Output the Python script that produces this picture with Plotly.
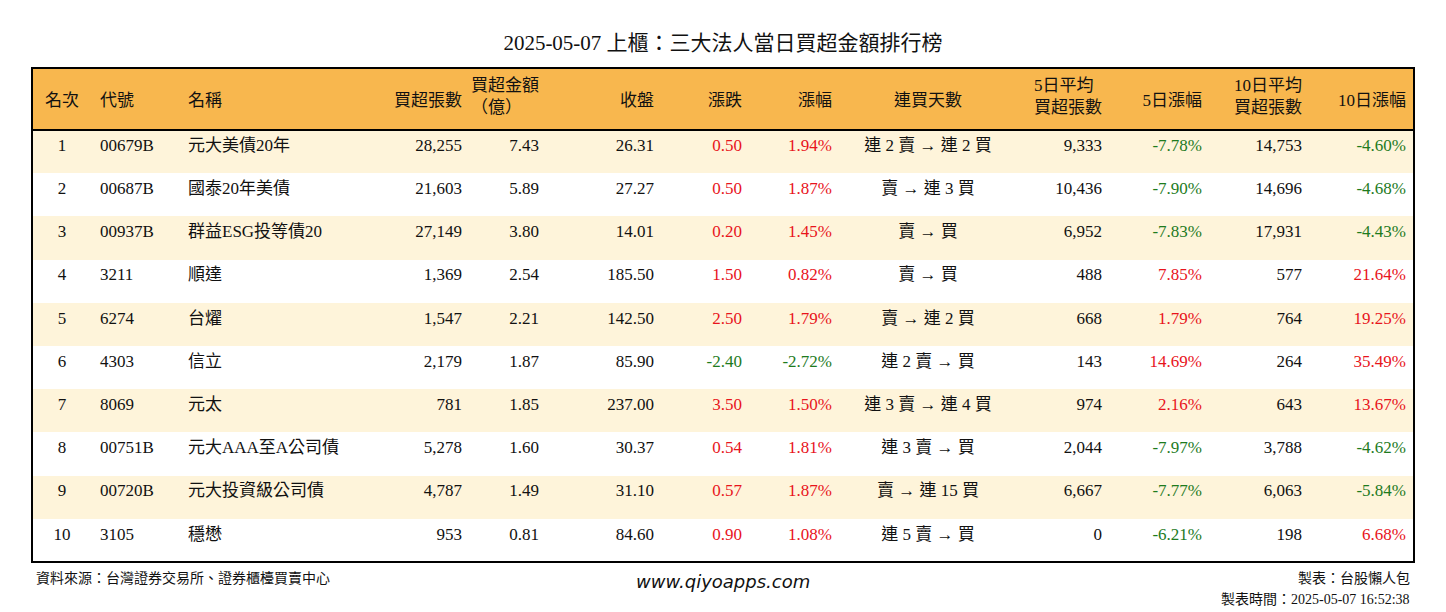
import plotly.graph_objects as go

rank = [1,2,3,4,5,6,7,8,9,10]
code = ["00679B","00687B","00937B","3211","6274","4303","8069","00751B","00720B","3105"]
name = ["元大美債20年","國泰20年美債","群益ESG投等債20","順達","台燿","信立","元太","元大AAA至A公司債","元大投資級公司債","穩懋"]
buy_lots = [28255,21603,27149,1369,1547,2179,781,5278,4787,953]
buy_amt = [7.43,5.89,3.80,2.54,2.21,1.87,1.85,1.60,1.49,0.81]
close = [26.31,27.27,14.01,185.50,142.50,85.90,237.00,30.37,31.10,84.60]
chg = [0.50,0.50,0.20,1.50,2.50,-2.40,3.50,0.54,0.57,0.90]
pct = [1.94,1.87,1.45,0.82,1.79,-2.72,1.50,1.81,1.87,1.08]
streak = ["連 2 賣 → 連 2 買","賣 → 連 3 買","賣 → 買","賣 → 買","賣 → 連 2 買","連 2 賣 → 買","連 3 賣 → 連 4 買","連 3 賣 → 買","賣 → 連 15 買","連 5 賣 → 買"]
avg5 = [9333,10436,6952,488,668,143,974,2044,6667,0]
pct5 = [-7.78,-7.90,-7.83,7.85,1.79,14.69,2.16,-7.97,-7.77,-6.21]
avg10 = [14753,14696,17931,577,764,264,643,3788,6063,198]
pct10 = [-4.60,-4.68,-4.43,21.64,19.25,35.49,13.67,-4.62,-5.84,6.68]

headers = ["名次","代號","名稱","買超張數","買超金額<br>（億）","收盤","漲跌","漲幅","連買天數","5日平均<br>買超張數","5日漲幅","10日平均<br>買超張數","10日漲幅"]
sp = "<span style='font-size:9px'> </span><br>"
headers = [h if "<br>" in h else sp + h for h in headers]

RED, GREEN, BLK = "#E8141C", "#1E7B1E", "#111111"
def sc(v): return RED if v > 0 else (GREEN if v < 0 else BLK)

cols = [
    [str(r) for r in rank], code, name,
    [f"{v:,}" for v in buy_lots], [f"{v:.2f}" for v in buy_amt], [f"{v:.2f}" for v in close],
    [f"{v:.2f}" for v in chg], [f"{v:.2f}%" for v in pct], streak,
    [f"{v:,}" for v in avg5], [f"{v:.2f}%" for v in pct5],
    [f"{v:,}" for v in avg10], [f"{v:.2f}%" for v in pct10],
]
n = len(rank)
black = [BLK]*n
fcolors = [black, black, black, black, black, black,
           [sc(v) for v in chg], [sc(v) for v in chg], black,
           black, [sc(v) for v in pct5], black, [sc(v) for v in pct10]]
align = ["center","left","left","right","right","right","right","right","center","right","right","right","right"]
rowfill = ["#FEF4DA" if i % 2 == 0 else "#FFFFFF" for i in range(n)]
widths = [60,88,200,90,77,115,88,90,176,94,100,100,104]

W, H = 1446, 612
DX, DY = 8, 7  # compensate page offset
def px(x): return (x - DX) / W
def py(y): return 1 - (y - DY) / H

FONT = "Liberation Serif, Noto Sans CJK TC, serif"
fig = go.Figure(go.Table(
    columnwidth=widths,
    domain=dict(x=[px(32), px(1414)], y=[py(561), py(67)]),
    header=dict(values=headers, align=align, fill_color="#F8B74E", height=62,
                line=dict(width=0, color="#F8B74E"),
                font=dict(family=FONT, size=17, color=BLK)),
    cells=dict(values=cols, align=align, fill_color=[rowfill]*13, height=43.2,
               line=dict(width=0, color="white"),
               font=dict(family=FONT, size=17, color=fcolors)),
))
fig.add_shape(type="rect", xref="paper", yref="paper", x0=px(32), x1=px(1414), y0=py(561), y1=py(67),
              line=dict(color="black", width=2))
fig.add_shape(type="line", xref="paper", yref="paper", x0=px(32), x1=px(1414), y0=py(129), y1=py(129),
              line=dict(color="black", width=2))
fig.update_layout(
    width=W, height=H, margin=dict(l=0, r=0, t=0, b=0), paper_bgcolor="white",
    title=dict(text="2025-05-07 上櫃：三大法人當日買超金額排行榜", x=px(723), y=py(42), xanchor="center", yanchor="middle",
               font=dict(family=FONT, size=21, color=BLK)),
    annotations=[
        dict(text="資料來源：台灣證券交易所、證券櫃檯買賣中心", x=px(34), y=py(577), xref="paper", yref="paper",
             xanchor="left", yanchor="middle", showarrow=False, font=dict(family=FONT, size=14, color=BLK)),
        dict(text="<i>www.qiyoapps.com</i>", x=px(723), y=py(580), xref="paper", yref="paper",
             xanchor="center", yanchor="middle", showarrow=False, font=dict(family="DejaVu Sans", size=18, color=BLK)),
        dict(text="製表：台股懶人包", x=px(1412), y=py(577), xref="paper", yref="paper",
             xanchor="right", yanchor="middle", showarrow=False, font=dict(family=FONT, size=14, color=BLK)),
        dict(text="製表時間：2025-05-07 16:52:38", x=px(1412), y=py(598), xref="paper", yref="paper",
             xanchor="right", yanchor="middle", showarrow=False, font=dict(family=FONT, size=14, color=BLK)),
    ],
)
fig.write_html("out.html")
